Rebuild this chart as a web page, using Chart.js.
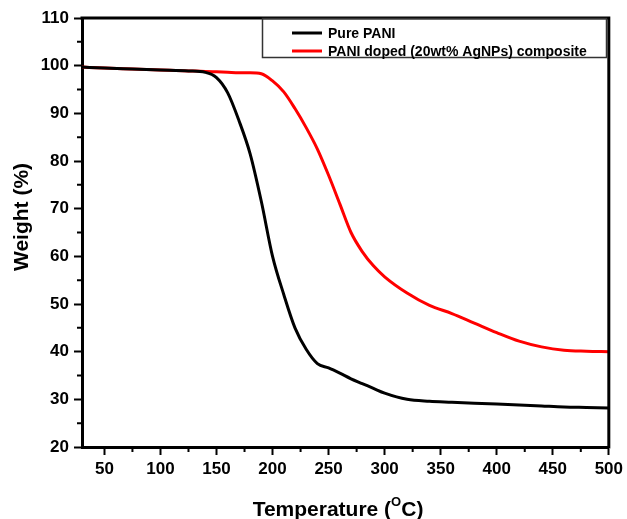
<!DOCTYPE html>
<html>
<head>
<meta charset="utf-8">
<script src="https://cdn.jsdelivr.net/npm/chart.js@4.4.1/dist/chart.umd.min.js"></script>
<style>
  html, body { margin: 0; padding: 0; background: #fff; }
  #wrap { width: 627px; height: 519px; }
</style>
</head>
<body>
<div id="wrap"><canvas id="tga" width="627" height="519"></canvas></div>
<script>
// Temperatures (°C)
const temps = [30, 50, 75, 100, 125, 140, 150, 160, 170, 180, 190, 200, 210, 220, 230, 240,
               250, 260, 270, 280, 290, 300, 320, 340, 360, 380, 400, 420, 440, 460, 480, 500];

// Weight (%) for each series
const purePani = [99.7, 99.5, 99.3, 99.1, 98.9, 98.6, 97.5, 94.3, 88.5, 81.5, 71.5, 60.0, 52.0, 45.0, 40.5, 37.5,
                  36.6, 35.5, 34.3, 33.3, 32.3, 31.3, 30.0, 29.6, 29.4, 29.2, 29.0, 28.8, 28.6, 28.4, 28.3, 28.2];
const dopedPani = [99.7, 99.5, 99.3, 99.1, 98.9, 98.8, 98.7, 98.6, 98.5, 98.5, 98.3, 96.8, 94.5, 91.0, 87.0, 82.5,
                   77.0, 71.0, 65.0, 61.0, 58.0, 55.7, 52.3, 49.7, 48.0, 46.0, 44.0, 42.2, 41.0, 40.3, 40.1, 40.0];

const seriesNames = ['Pure PANI', 'PANI doped (20wt% AgNPs) composite'];
const seriesColors = ['#000000', '#ff0000'];

// Tick labels
const xTicks = [50, 100, 150, 200, 250, 300, 350, 400, 450, 500];
const yTicks = [20, 30, 40, 50, 60, 70, 80, 90, 100, 110];
const xMinor = [75, 125, 175, 225, 275, 325, 375, 425, 475];
const yMinor = [25, 35, 45, 55, 65, 75, 85, 95, 105];

const FONT = "'Liberation Sans', Arial, sans-serif";

function toPoints(ys) {
    return temps.map((t, i) => ({ x: t, y: ys[i] }));
}

// Frame, minor ticks, axis titles and the boxed legend
const extrasPlugin = {
    id: 'extras',
    afterDraw(chart) {
        const ctx = chart.ctx;
        const a = chart.chartArea;
        const xs = chart.scales.x;
        const ys = chart.scales.y;
        ctx.save();

        // top and right frame lines
        ctx.strokeStyle = '#000';
        ctx.lineWidth = 3;
        ctx.beginPath();
        ctx.moveTo(a.left - 1.5, a.top);
        ctx.lineTo(a.right, a.top);
        ctx.lineTo(a.right, a.bottom + 1.5);
        ctx.stroke();

        // minor ticks
        ctx.lineWidth = 2;
        ctx.beginPath();
        xMinor.forEach(v => {
            const px = xs.getPixelForValue(v);
            ctx.moveTo(px, a.bottom);
            ctx.lineTo(px, a.bottom + 5);
        });
        yMinor.forEach(v => {
            const py = ys.getPixelForValue(v);
            ctx.moveTo(a.left, py);
            ctx.lineTo(a.left - 5, py);
        });
        ctx.stroke();

        // axis titles
        ctx.fillStyle = '#000';
        ctx.font = 'bold 21px ' + FONT;
        ctx.textBaseline = 'middle';
        ctx.textAlign = 'center';
        ctx.save();
        ctx.translate(22, 217);
        ctx.rotate(-Math.PI / 2);
        ctx.fillText('Weight (%)', 0, 0);
        ctx.restore();

        const t1 = 'Temperature (', sup = 'O', t2 = 'C)';
        ctx.textAlign = 'left';
        const w1 = ctx.measureText(t1).width;
        const w3 = ctx.measureText(t2).width;
        ctx.font = 'bold 13px ' + FONT;
        const w2 = ctx.measureText(sup).width;
        let x0 = 338 - (w1 + w2 + w3) / 2;
        ctx.font = 'bold 21px ' + FONT;
        ctx.fillText(t1, x0, 510);
        ctx.font = 'bold 13px ' + FONT;
        ctx.fillText(sup, x0 + w1, 502);
        ctx.font = 'bold 21px ' + FONT;
        ctx.fillText(t2, x0 + w1 + w2, 510);

        // legend box
        ctx.strokeStyle = '#333';
        ctx.lineWidth = 1.5;
        ctx.strokeRect(262.5, 18.5, 344, 39);
        ctx.font = 'bold 14px ' + FONT;
        const rows = [33, 51];
        seriesNames.forEach((name, i) => {
            ctx.strokeStyle = seriesColors[i];
            ctx.lineWidth = 3;
            ctx.beginPath();
            ctx.moveTo(292, rows[i]);
            ctx.lineTo(322, rows[i]);
            ctx.stroke();
            ctx.fillStyle = '#000';
            ctx.fillText(name, 328, rows[i] + 1);
        });

        ctx.restore();
    }
};

new Chart(document.getElementById('tga'), {
    type: 'line',
    data: {
        datasets: [
            { label: seriesNames[0], data: toPoints(purePani), borderColor: seriesColors[0] },
            { label: seriesNames[1], data: toPoints(dopedPani), borderColor: seriesColors[1] }
        ]
    },
    options: {
        responsive: false,
        animation: false,
        layout: { padding: { top: 18, right: 18, left: 0, bottom: 0 } },
        elements: {
            point: { radius: 0 },
            line: { borderWidth: 3, cubicInterpolationMode: 'monotone' }
        },
        plugins: {
            legend: { display: false },
            tooltip: { enabled: false }
        },
        scales: {
            x: {
                type: 'linear',
                min: 30,
                max: 500,
                afterBuildTicks: s => { s.ticks = xTicks.map(v => ({ value: v })); },
                afterFit: s => { s.height = 72; },
                grid: { drawOnChartArea: false, tickLength: 8, tickWidth: 2, tickColor: '#000' },
                border: { color: '#000', width: 3 },
                ticks: { color: '#000', padding: 4, maxRotation: 0, font: { family: FONT, size: 17, weight: 'bold' } }
            },
            y: {
                min: 20,
                max: 110,
                afterBuildTicks: s => { s.ticks = yTicks.map(v => ({ value: v })); },
                afterFit: s => { s.width = 82; },
                grid: { drawOnChartArea: false, tickLength: 8, tickWidth: 2, tickColor: '#000' },
                border: { color: '#000', width: 3 },
                ticks: { color: '#000', padding: 5, font: { family: FONT, size: 17, weight: 'bold' } }
            }
        }
    },
    plugins: [extrasPlugin]
});
</script>
</body>
</html>
